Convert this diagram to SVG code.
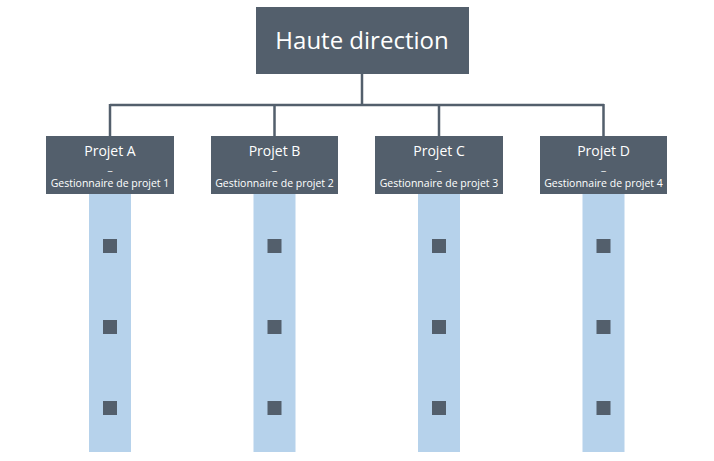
<svg xmlns="http://www.w3.org/2000/svg" width="714" height="461" viewBox="0 0 714 461">
<style>
.box{fill:#535f6c}
.col{fill:#b6d2eb}
.sq{fill:#535f6c}
.t{fill:#fff;font-family:"Open Sans","Liberation Sans",sans-serif;text-anchor:middle}
.s{font-size:10.5px}
.ln{stroke:#535f6c;stroke-width:2.5;fill:none}
</style>
<rect width="714" height="461" fill="#fff"/>
<g id="connectors">
<path class="ln" d="M362 74V105M110 105H604M110 104V136M274.5 104V136M439 104V136M603.5 104V136"/>
</g>
<g id="top"><rect class="box" x="256" y="7" width="213" height="67"/><text class="t" x="362" y="49" font-size="24">Haute direction</text></g>
<g id="colA"><rect class="col" x="89" y="194" width="42" height="258"/><rect class="sq" x="103" y="239" width="14" height="14"/><rect class="sq" x="103" y="320" width="14" height="14"/><rect class="sq" x="103" y="401" width="14" height="14"/></g>
<g id="colB"><rect class="col" x="253.5" y="194" width="42" height="258"/><rect class="sq" x="267.5" y="239" width="14" height="14"/><rect class="sq" x="267.5" y="320" width="14" height="14"/><rect class="sq" x="267.5" y="401" width="14" height="14"/></g>
<g id="colC"><rect class="col" x="418" y="194" width="42" height="258"/><rect class="sq" x="432" y="239" width="14" height="14"/><rect class="sq" x="432" y="320" width="14" height="14"/><rect class="sq" x="432" y="401" width="14" height="14"/></g>
<g id="colD"><rect class="col" x="582.5" y="194" width="42" height="258"/><rect class="sq" x="596.5" y="239" width="14" height="14"/><rect class="sq" x="596.5" y="320" width="14" height="14"/><rect class="sq" x="596.5" y="401" width="14" height="14"/></g>
<g id="projA"><rect class="box" x="46" y="136" width="128" height="58"/><text class="t" x="110" y="156" font-size="14">Projet A</text><text class="t s" x="110" y="170">_</text><text class="t s" x="110" y="187">Gestionnaire de projet 1</text></g>
<g id="projB"><rect class="box" x="211" y="136" width="127" height="58"/><text class="t" x="274.5" y="156" font-size="14">Projet B</text><text class="t s" x="274.5" y="170">_</text><text class="t s" x="274.5" y="187">Gestionnaire de projet 2</text></g>
<g id="projC"><rect class="box" x="375" y="136" width="128" height="58"/><text class="t" x="439" y="156" font-size="14">Projet C</text><text class="t s" x="439" y="170">_</text><text class="t s" x="439" y="187">Gestionnaire de projet 3</text></g>
<g id="projD"><rect class="box" x="540" y="136" width="127" height="58"/><text class="t" x="603.5" y="156" font-size="14">Projet D</text><text class="t s" x="603.5" y="170">_</text><text class="t s" x="603.5" y="187">Gestionnaire de projet 4</text></g>
</svg>
